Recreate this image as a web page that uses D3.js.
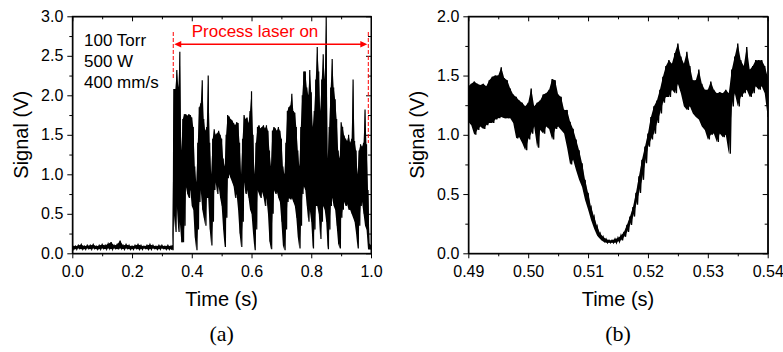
<!DOCTYPE html>
<html><head><meta charset="utf-8">
<script src="https://cdn.jsdelivr.net/npm/d3@7"></script>
<style>body{margin:0;background:#fff} svg{display:block;background:#fff}</style>
</head><body><svg id="c" width="783" height="352"></svg>
<script>
// ---------- Panel (a): envelope of the signal (high / low value per time sample) ----------
const timeA = [0,0.01,0.02,0.03,0.04,0.05,0.06,0.07,0.08,0.09,0.10,0.11,0.12,0.13,0.14,0.15,0.16,0.17,0.18,0.19,0.20,0.21,0.22,0.23,0.24,0.25,0.26,0.27,0.28,0.29,0.30,0.31,0.32,0.33,0.335,
0.340,0.345,0.350,0.355,0.360,0.365,0.370,0.375,0.380,0.385,0.390,0.395,0.400,0.405,0.410,0.415,0.420,0.425,0.430,0.435,0.440,0.445,0.450,0.455,0.460,0.465,0.470,0.475,0.480,0.485,0.490,0.495,0.500,0.505,0.510,0.515,0.520,0.525,0.530,0.535,0.540,0.545,0.550,0.555,0.560,0.565,0.570,0.575,0.580,0.585,0.590,0.595,0.600,0.605,0.610,0.615,0.620,0.625,0.630,0.635,0.640,0.645,0.650,0.655,0.660,0.665,0.670,0.675,0.680,0.685,0.690,0.695,0.700,0.705,0.710,0.715,0.720,0.725,0.730,0.735,0.740,0.745,0.750,0.755,0.760,0.765,0.770,0.775,0.780,0.785,0.790,0.795,0.800,0.805,0.810,0.815,0.820,0.825,0.830,0.835,0.840,0.845,0.850,0.855,0.860,0.865,0.870,0.875,0.880,0.885,0.890,0.895,0.900,0.905,0.910,0.915,0.920,0.925,0.930,0.935,0.940,0.945,0.950,0.955,0.960,0.965,0.970,0.975,0.980,0.985,0.990,0.995,1.000];
const hiA = [0.10,0.09,0.10,0.11,0.09,0.10,0.10,0.11,0.09,0.10,0.11,0.10,0.12,0.14,0.10,0.11,0.16,0.10,0.11,0.10,0.09,0.10,0.11,0.10,0.09,0.10,0.11,0.10,0.09,0.10,0.10,0.09,0.10,0.09,0.10,
2.08,2.08,2.32,2.10,2.55,1.30,1.70,1.76,1.76,1.74,1.76,1.75,1.72,1.60,1.10,0.90,1.40,1.85,1.90,2.19,1.70,1.55,1.60,2.25,1.40,1.00,1.45,1.57,1.50,1.52,1.55,1.50,1.45,1.20,1.10,1.50,1.75,1.73,1.70,1.68,1.65,1.62,1.66,1.65,1.40,1.00,1.45,1.75,1.70,1.72,1.65,1.80,2.05,1.50,1.00,1.40,1.60,1.62,1.58,1.60,1.62,1.58,1.62,1.55,1.30,1.10,1.55,1.60,1.58,1.55,1.60,1.55,1.45,1.10,1.00,1.40,1.80,1.85,1.87,2.02,1.80,1.78,1.60,1.30,1.10,1.60,2.00,2.30,2.30,2.10,2.00,2.32,2.04,1.60,1.80,2.20,2.61,2.30,1.80,2.20,2.52,2.20,3.00,1.20,1.60,2.10,2.46,2.10,1.95,1.70,1.30,1.20,1.66,1.60,1.49,1.45,1.42,1.50,1.40,1.45,2.20,1.42,1.30,1.00,1.30,1.38,1.35,1.40,1.82,1.38,0.80,0.12,0.10];
const loA = [0.05,0.05,0.06,0.05,0.05,0.06,0.05,0.06,0.05,0.05,0.06,0.05,0.06,0.05,0.06,0.05,0.06,0.05,0.06,0.05,0.05,0.06,0.05,0.05,0.06,0.05,0.05,0.06,0.05,0.05,0.06,0.05,0.05,0.05,0.04,
0.50,0.27,0.60,0.27,0.40,0.14,0.14,0.35,0.85,0.75,0.70,0.80,0.60,0.55,0.20,0.04,0.30,0.65,0.80,0.55,0.45,0.35,0.70,0.70,0.30,0.10,0.40,0.80,0.90,0.75,0.85,0.70,0.60,0.30,0.08,0.45,0.95,1.00,0.95,0.90,0.85,0.70,0.75,0.55,0.25,0.08,0.40,0.90,0.75,0.80,0.70,0.55,0.50,0.25,0.04,0.30,0.80,0.75,0.70,0.78,0.72,0.60,0.70,0.50,0.15,0.05,0.50,0.80,0.75,0.78,0.70,0.65,0.40,0.10,0.04,0.30,0.65,0.70,0.68,0.70,0.65,0.60,0.45,0.20,0.06,0.35,0.75,0.85,0.80,0.60,0.40,0.55,0.40,0.06,0.30,0.60,0.60,0.50,0.18,0.40,0.60,0.55,0.40,0.05,0.30,0.60,0.70,0.60,0.55,0.35,0.12,0.06,0.45,0.55,0.65,0.60,0.62,0.55,0.55,0.50,0.45,0.40,0.25,0.06,0.35,0.60,0.65,0.50,0.35,0.30,0.05,0.05,0.05];

// ---------- Panel (b): zoom of one dip ----------
const timeB = [0.4900,0.4905,0.4910,0.4915,0.4920,0.4925,0.4930,0.4935,0.4940,0.4945,0.4950,0.4955,0.4960,0.4965,0.4970,0.4975,0.4980,0.4985,0.4990,0.4995,0.5000,0.5005,0.5010,0.5015,0.5020,0.5025,0.5030,0.5035,0.5040,0.5045,0.5050,0.5055,0.5060,0.5065,0.5070,0.5075,0.5080,0.5085,0.5090,0.5095,0.5100,0.5105,0.5110,0.5115,0.5120,0.5125,0.5130,0.5135,0.5140,0.5145,0.5150,0.5155,0.5160,0.5165,0.5170,0.5175,0.5180,0.5185,0.5190,0.5195,0.5200,0.5205,0.5210,0.5215,0.5220,0.5225,0.5230,0.5235,0.5240,0.5245,0.5250,0.5255,0.5260,0.5265,0.5270,0.5275,0.5280,0.5285,0.5290,0.5295,0.5300,0.5305,0.5310,0.5315,0.5320,0.5325,0.5330,0.5335,0.5340,0.5345,0.5350,0.5355,0.5360,0.5365,0.5370,0.5375,0.5380,0.5385,0.5390,0.5395,0.5400];
const hiB = [1.41,1.43,1.45,1.43,1.42,1.43,1.41,1.46,1.49,1.50,1.50,1.57,1.48,1.46,1.39,1.34,1.32,1.29,1.27,1.24,1.27,1.39,1.24,1.27,1.29,1.34,1.35,1.38,1.47,1.46,1.34,1.32,1.21,1.21,1.11,1.05,0.96,0.87,0.76,0.62,0.51,0.39,0.31,0.23,0.17,0.14,0.12,0.11,0.11,0.12,0.13,0.15,0.18,0.24,0.31,0.39,0.51,0.65,0.79,0.90,1.01,1.15,1.24,1.29,1.38,1.49,1.58,1.63,1.60,1.69,1.77,1.66,1.60,1.70,1.58,1.46,1.46,1.55,1.43,1.38,1.38,1.45,1.38,1.35,1.36,1.35,1.38,1.35,1.55,1.66,1.77,1.63,1.58,1.74,1.55,1.58,1.63,1.63,1.63,1.58,1.49];
const loB = [1.11,1.08,1.00,1.04,1.07,1.05,1.08,1.10,1.10,1.13,1.14,1.15,1.14,1.14,1.14,1.10,0.97,0.98,0.93,0.87,0.96,1.01,1.07,0.89,1.04,1.01,1.07,1.05,0.96,1.05,1.07,1.04,1.01,0.89,0.75,0.79,0.70,0.62,0.56,0.45,0.37,0.28,0.21,0.15,0.12,0.10,0.09,0.09,0.09,0.09,0.10,0.11,0.14,0.18,0.24,0.31,0.41,0.51,0.62,0.76,0.90,0.96,1.01,1.10,1.18,1.27,1.32,1.32,1.38,1.35,1.43,1.35,1.24,1.21,1.24,1.18,1.15,1.13,1.07,1.04,0.96,1.00,1.01,0.94,1.01,0.98,1.00,0.84,1.24,1.35,1.24,1.32,1.35,1.38,1.32,1.35,1.41,1.38,1.41,1.35,1.15];

// ---------- ticks & labels ----------
const xMajorA = [0,0.2,0.4,0.6,0.8,1.0];
const xMinorA = [0.1,0.3,0.5,0.7,0.9];
const yMajorA = [0,0.5,1.0,1.5,2.0,2.5,3.0];
const yMinorA = [0.25,0.75,1.25,1.75,2.25,2.75];
const xMajorB = [0.49,0.50,0.51,0.52,0.53,0.54];
const xMinorB = [0.495,0.505,0.515,0.525,0.535];
const yMajorB = [0,0.5,1.0,1.5,2.0];
const yMinorB = [0.25,0.75,1.25,1.75];
const conditionsA = ["100 Torr","500 W","400 mm/s"];
const laserLabel = "Process laser on";
const laserTimes = [0.338, 0.991];
const xTitle = "Time (s)", yTitle = "Signal (V)";
const panelTags = ["(a)","(b)"];

const SANS = "Arial, 'Liberation Sans', Helvetica, sans-serif";
const SERIF = "'Times New Roman', 'Liberation Serif', serif";
const svg = d3.select("#c");
const TOP = 16.3, BOT = 253.3;

function drawPanel(cfg) {
  const x = d3.scaleLinear().domain(cfg.xDomain).range([cfg.left, cfg.right]);
  const y = d3.scaleLinear().domain(cfg.yDomain).range([BOT, TOP]);
  const g = svg.append("g");
  svg.append("clipPath").attr("id", "clip" + cfg.id).append("rect")
    .attr("x", cfg.left).attr("y", TOP).attr("width", cfg.right - cfg.left).attr("height", BOT - TOP);

  const rows = cfg.t.map((t, i) => ({t, hi: cfg.hi[i], lo: cfg.lo[i]}));
  // solid envelope
  g.append("path").attr("clip-path", `url(#clip${cfg.id})`)
    .attr("d", d3.area().x(d => x(d.t)).y0(d => y(d.lo)).y1(d => y(d.hi))(rows))
    .attr("fill", "#000").attr("stroke", "none");
  // noisy trace on top (alternating high / low)
  const pts = [];
  rows.forEach((d, i) => {
    const nxt = i < rows.length - 1 ? rows[i + 1].t : d.t;
    pts.push([d.t, d.hi]);
    pts.push([(d.t + nxt) / 2, d.lo]);
  });
  g.append("path").attr("clip-path", `url(#clip${cfg.id})`)
    .attr("d", d3.line().x(d => x(d[0])).y(d => y(d[1]))(pts))
    .attr("fill", "none").attr("stroke", "#000").attr("stroke-width", cfg.sw);

  const fx = d3.format(cfg.fmtX), fy = d3.format(".1f");
  const ax = (sel) => sel.attr("font-size", 16).attr("font-family", SANS)
      .call(s => s.selectAll("text").attr("fill", "#000"))
      .call(s => s.selectAll("line,path").attr("stroke", "#000"));
  g.append("g").attr("transform", `translate(0,${BOT})`)
    .call(d3.axisBottom(x).tickValues(cfg.xMajor).tickSize(5).tickSizeOuter(0).tickPadding(7).tickFormat(fx)).call(ax);
  g.append("g").attr("transform", `translate(0,${BOT})`)
    .call(d3.axisBottom(x).tickValues(cfg.xMinor).tickSize(3).tickSizeOuter(0).tickFormat("")).call(ax);
  g.append("g").attr("transform", `translate(0,${TOP})`)
    .call(d3.axisTop(x).tickValues(cfg.xMajor).tickSize(-5).tickSizeOuter(0).tickFormat("")).call(ax);
  g.append("g").attr("transform", `translate(0,${TOP})`)
    .call(d3.axisTop(x).tickValues(cfg.xMinor).tickSize(-3).tickSizeOuter(0).tickFormat("")).call(ax);
  g.append("g").attr("transform", `translate(${cfg.left},0)`)
    .call(d3.axisLeft(y).tickValues(cfg.yMajor).tickSize(5).tickSizeOuter(0).tickPadding(4).tickFormat(fy)).call(ax);
  g.append("g").attr("transform", `translate(${cfg.left},0)`)
    .call(d3.axisLeft(y).tickValues(cfg.yMinor).tickSize(3).tickSizeOuter(0).tickFormat("")).call(ax);
  g.append("g").attr("transform", `translate(${cfg.right},0)`)
    .call(d3.axisRight(y).tickValues(cfg.yMajor).tickSize(-5).tickSizeOuter(0).tickFormat("")).call(ax);
  g.append("g").attr("transform", `translate(${cfg.right},0)`)
    .call(d3.axisRight(y).tickValues(cfg.yMinor).tickSize(-3).tickSizeOuter(0).tickFormat("")).call(ax);

  g.append("rect").attr("x", cfg.left).attr("y", TOP).attr("width", cfg.right - cfg.left).attr("height", BOT - TOP)
    .attr("fill", "none").attr("stroke", "#000").attr("stroke-width", 1);

  const cx = (cfg.left + cfg.right) / 2;
  g.append("text").attr("x", cx).attr("y", 306).attr("text-anchor", "middle")
    .attr("font-family", SANS).attr("font-size", 20).text(xTitle);
  g.append("text").attr("transform", `translate(${cfg.yTitleX},${(TOP + BOT) / 2}) rotate(-90)`)
    .attr("text-anchor", "middle").attr("font-family", SANS).attr("font-size", 20).text(yTitle);
  g.append("text").attr("x", cx).attr("y", 341).attr("text-anchor", "middle")
    .attr("font-family", SERIF).attr("font-size", 22).text(cfg.tag);
  return {x, y, g};
}

const A = drawPanel({id: "a", left: 72.3, right: 371, xDomain: [0, 1], yDomain: [0, 3],
  t: timeA, hi: hiA, lo: loA, xMajor: xMajorA, xMinor: xMinorA, yMajor: yMajorA, yMinor: yMinorA,
  fmtX: ".1f", yTitleX: 28, tag: panelTags[0], sw: 1.2});
const B = drawPanel({id: "b", left: 468.3, right: 767.7, xDomain: [0.49, 0.54], yDomain: [0, 2],
  t: timeB, hi: hiB, lo: loB, xMajor: xMajorB, xMinor: xMinorB, yMajor: yMajorB, yMinor: yMinorB,
  fmtX: ".2f", yTitleX: 423.5, tag: panelTags[1], sw: 1.4});

// conditions text
A.g.selectAll("text.cond").data(conditionsA).enter().append("text").attr("class", "cond")
  .attr("x", 84).attr("y", (d, i) => 45.5 + i * 21).attr("font-family", SANS).attr("font-size", 17)
  .attr("fill", "#000").text(d => d);

// process laser annotation
const xs = A.x(laserTimes[0]), xe = A.x(laserTimes[1]);
const red = "#ff0000", arrowY = 44.3;
A.g.append("line").attr("x1", xs).attr("x2", xs).attr("y1", 32).attr("y2", 80)
  .attr("stroke", red).attr("stroke-width", 1).attr("stroke-dasharray", "4,2");
A.g.append("line").attr("x1", xe).attr("x2", xe).attr("y1", 32).attr("y2", 143)
  .attr("stroke", red).attr("stroke-width", 1).attr("stroke-dasharray", "4,2");
A.g.append("line").attr("x1", xs + 4).attr("x2", xe - 4).attr("y1", arrowY).attr("y2", arrowY)
  .attr("stroke", red).attr("stroke-width", 1.5);
A.g.append("path").attr("d", `M${xs + 1},${arrowY} L${xs + 8},${arrowY - 3.2} L${xs + 8},${arrowY + 3.2} Z`).attr("fill", red);
A.g.append("path").attr("d", `M${xe - 1},${arrowY} L${xe - 8},${arrowY - 3.2} L${xe - 8},${arrowY + 3.2} Z`).attr("fill", red);
A.g.append("text").attr("x", 255).attr("y", 37.3).attr("text-anchor", "middle")
  .attr("font-family", SANS).attr("font-size", 17).attr("fill", red).text(laserLabel);
</script></body></html>
